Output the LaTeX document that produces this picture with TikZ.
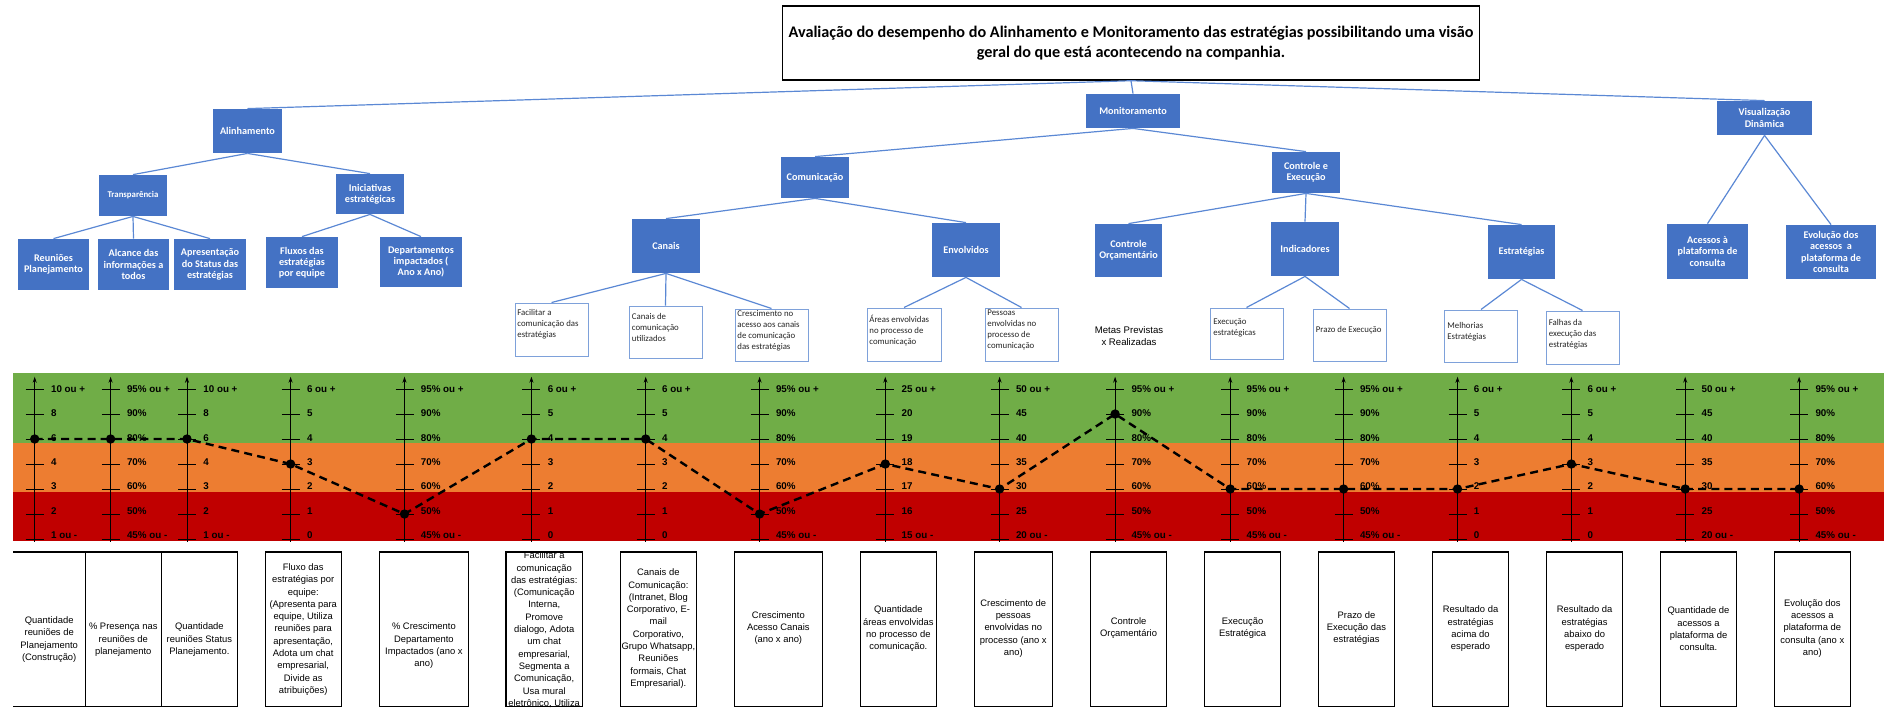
\documentclass[tikz,border=0pt]{standalone}
\usepackage{fontspec}
\setmainfont{Carlito}
\newfontfamily\arialish{Liberation Sans}
\usetikzlibrary{arrows.meta}

\definecolor{boxblue}{HTML}{4472C4}
\definecolor{linkblue}{HTML}{5B88D4}
\definecolor{paleblue}{HTML}{7EA1DA}
\definecolor{zgreen}{HTML}{70AD47}
\definecolor{zorange}{HTML}{ED7D31}
\definecolor{zred}{HTML}{C00000}

\tikzset{
  sz/.style 2 args={minimum width=#1*0.5pt, minimum height=#2*0.5pt},
  titlebox/.style={draw=black, line width=0.7pt, fill=white, inner sep=0pt, align=center,
    font=\bfseries\fontsize{8.1}{10}\selectfont},
  bluebox/.style={fill=boxblue, text=white, inner sep=0.5pt, align=center,
    font=\bfseries\fontsize{5.1}{5.6}\selectfont},
  subbox/.style={draw=paleblue, line width=0.5pt, fill=white, inner sep=0pt},
  subtxt/.style={anchor=west, align=left, inner sep=0pt, text=black!85,
    font=\fontsize{4.4}{5.5}\selectfont},
  metas/.style={align=center, inner sep=0pt, font=\arialish\fontsize{4.8}{5.9}\selectfont},
  conn/.style={draw=linkblue, line width=0.6pt},
  axisline/.style={line width=0.45pt, -{Stealth[length=3pt,width=2pt]}},
  tickmark/.style={line width=0.45pt},
  lvl/.style={anchor=west, inner sep=0pt, font=\arialish\bfseries\fontsize{4.9}{5}\selectfont},
  trend/.style={line width=1.2pt, dash pattern=on 4pt off 2.6pt},
  dot/.style={fill=black},
  kpibox/.style={draw=black, line width=0.6pt},
  kpitxt/.style={inner sep=0pt, align=center, font=\arialish\fontsize{4.7}{6.15}\selectfont},
}

% scale labels of the gauges
\def\lblA{10 ou +,8,6,4,3,2,1 ou -}
\def\lblP{95\% ou +,90\%,80\%,70\%,60\%,50\%,45\% ou -}
\def\lblS{6 ou +,5,4,3,2,1,0}
\def\lblT{25 ou +,20,19,18,17,16,15 ou -}
\def\lblF{50 ou +,45,40,35,30,25,20 ou -}

\begin{document}
\begin{tikzpicture}[x=0.5pt,y=-0.5pt]
\useasboundingbox (0,0) rectangle (1884,709);

% ---------- hierarchy ----------
\node[titlebox, sz={697}{74}] (title) at (1131,43)
  {Avaliação do desempenho do Alinhamento e Monitoramento das estratégias possibilitando uma visão\\geral do que está acontecendo na companhia.};

\node[bluebox, sz={69}{44}] (alin) at (247.5,131) {Alinhamento};
\node[bluebox, sz={68}{41}, font=\bfseries\fontsize{4.4}{5}\selectfont] (transp) at (133,195.5) {Transparência};
\node[bluebox, sz={68}{40}] (inic) at (370,194) {Iniciativas\\estratégicas};
\node[bluebox, sz={71}{51}] (reun) at (53.5,264.5) {Reuniões\\Planejamento};
\node[bluebox, sz={71}{51}] (alc) at (133.5,264.5) {Alcance das\\informações a\\todos};
\node[bluebox, sz={72}{51}] (apres) at (210,264.5) {Apresentação\\do Status das\\estratégias};
\node[bluebox, sz={72}{51}] (fluxos) at (302,262.5) {Fluxos das\\estratégias\\por equipe};
\node[bluebox, sz={82}{50}] (depto) at (421,262) {Departamentos\\impactados (\\Ano x Ano)};

\node[bluebox, sz={94}{34}] (monit) at (1133,111) {Monitoramento};
\node[bluebox, sz={68}{41}] (comun) at (815,177.5) {Comunicação};
\node[bluebox, sz={68}{54}] (canais) at (666,246) {Canais};
\node[bluebox, sz={68}{54}] (envol) at (966,250) {Envolvidos};
\node[bluebox, sz={67}{53}] (ctrlorc) at (1128.5,250.5) {Controle\\Orçamentário};
\node[bluebox, sz={68}{41}] (ctrlexec) at (1306,172.5) {Controle e\\Execução};
\node[bluebox, sz={68}{54}] (indic) at (1305,249) {Indicadores};
\node[bluebox, sz={67}{54}] (estrat) at (1521.5,252) {Estratégias};

\node[bluebox, sz={95}{34}] (visu) at (1764.5,118) {Visualização\\Dinâmica};
\node[bluebox, sz={81}{55}] (acessos) at (1707.5,251.5) {Acessos à\\plataforma de\\consulta};
\node[bluebox, sz={90}{54}] (evol) at (1831,252) {Evolução dos\\acessos~ a\\plataforma de\\consulta};

% detail boxes under the blue items
\node[subbox, sz={73}{53}] (w1) at (551.5,329.5) {};
\node[subbox, sz={73}{52}] (w2) at (665.5,332) {};
\node[subbox, sz={73}{52}] (w3) at (771.5,335) {};
\node[subbox, sz={74}{53}] (w4) at (904,334.5) {};
\node[subbox, sz={73}{53}] (w5) at (1021.5,334.5) {};
\node[subbox, sz={73}{51}] (w6) at (1246.5,333.5) {};
\node[subbox, sz={73}{52}] (w7) at (1349.5,335) {};
\node[subbox, sz={73}{52}] (w8) at (1481,336) {};
\node[subbox, sz={73}{53}] (w9) at (1582.5,337.5) {};

\node[subtxt] (w1t) at (517,324.5) {Facilitar a\\comunicação das\\estratégias};
\node[subtxt] (w2t) at (631.5,327.8) {Canais de\\comunicação\\utilizados};
\node[subtxt] (w3t) at (737,330.5) {Crescimento no\\acesso aos canais\\de comunicação\\das estratégias};
\node[subtxt] (w4t) at (869,331) {Áreas envolvidas\\no processo de\\comunicação};
\node[subtxt] (w5t) at (987,330) {Pessoas\\envolvidas no\\processo de\\comunicação};
\node[subtxt] (w6t) at (1213,327.8) {Execução\\estratégicas};
\node[subtxt] (w7t) at (1315.5,330.3) {Prazo de Execução};
\node[subtxt] (w8t) at (1447,331.5) {Melhorias\\Estratégias};
\node[subtxt] (w9t) at (1548.5,333.7) {Falhas da\\execução das\\estratégias};

\node[metas] (metas) at (1129,336) {Metas Previstas\\x Realizadas};

% connectors
\draw[conn] (title.south) -- (alin.north);
\draw[conn] (title.south) -- (monit.north);
\draw[conn] (title.south) -- (visu.north);
\draw[conn] (alin.south) -- (transp.north);
\draw[conn] (alin.south) -- (inic.north);
\draw[conn] (transp.south) -- (reun.north);
\draw[conn] (transp.south) -- (alc.north);
\draw[conn] (transp.south) -- (apres.north);
\draw[conn] (inic.south) -- (fluxos.north);
\draw[conn] (inic.south) -- (depto.north);
\draw[conn] (monit.south) -- (comun.north);
\draw[conn] (monit.south) -- (ctrlexec.north);
\draw[conn] (comun.south) -- (canais.north);
\draw[conn] (comun.south) -- (envol.north);
\draw[conn] (ctrlexec.south) -- (ctrlorc.north);
\draw[conn] (ctrlexec.south) -- (indic.north);
\draw[conn] (ctrlexec.south) -- (estrat.north);
\draw[conn] (visu.south) -- (acessos.north);
\draw[conn] (visu.south) -- (evol.north);
\draw[conn] (canais.south) -- (w1.north);
\draw[conn] (canais.south) -- (w2.north);
\draw[conn] (canais.south) -- (w3.north);
\draw[conn] (envol.south) -- (w4.north);
\draw[conn] (envol.south) -- (w5.north);
\draw[conn] (indic.south) -- (w6.north);
\draw[conn] (indic.south) -- (w7.north);
\draw[conn] (estrat.south) -- (w8.north);
\draw[conn] (estrat.south) -- (w9.north);

% ---------- performance bands ----------
\fill[zgreen]  (13,372.7) rectangle (1884,443.2);
\fill[zorange] (13,443.2) rectangle (1884,491.8);
\fill[zred]    (13,491.8) rectangle (1884,540.5);

% gauges: x position / measured level / label set
\foreach \xa/\lv/\set [count=\k] in {34.7/2/A, 110.6/2/P, 187/2/A, 290.6/3/S, 404.5/5/P,
    531.4/2/S, 645.7/2/S, 759.6/5/P, 885.3/3/T, 999.6/4/F, 1115.1/1/P, 1230.2/4/P,
    1343.6/4/P, 1457.5/4/S, 1571.3/3/S, 1685.2/4/F, 1799.1/4/P}{
  \draw[axisline] (\xa,541.7) -- (\xa,376.7);
  \expandafter\let\expandafter\curlbl\csname lbl\set\endcsname
  \foreach \t [count=\j from 0] in \curlbl {
    \draw[tickmark] (\xa-9,{389+25*\j}) -- (\xa+9,{389+25*\j});
    \node[lvl] (lbl-\k-\j) at (\xa+16,{389.3+24.3*\j}) {\t};
  }
  \coordinate (p\k) at (\xa,{389+25*\lv});
}
\draw[trend] (p1) foreach \k in {2,...,17}{ -- (p\k)};
\foreach \k in {1,...,17}{ \fill[dot] (p\k) circle[radius=2.35pt]; }

% ---------- indicator descriptions ----------
\draw[kpibox] (13,552) -- (85.3,552) -- (85.3,706.7) -- (13,706.7);
\node[kpitxt] (kpi1) at (49.2,639.5) {Quantidade\\reuniões de\\Planejamento\\(Construção)};
\foreach \xa/\xb/\ty/\txt [count=\k from 2] in {
  85.3/161.2/639.7/{\% Presença nas\\reuniões de\\planejamento},
  161.2/237.6/639.7/{Quantidade\\reuniões Status\\Planejamento.},
  265.3/341.2/629.5/{Fluxo das\\estratégias por\\equipe:\\(Apresenta para\\equipe, Utiliza\\reuniões para\\apresentação,\\Adota um chat\\empresarial,\\Divide as\\atribuições)},
  379.6/468.2/645.8/{\% Crescimento\\Departamento\\Impactados (ano x\\ano)},
  506/582.4/629.7/{Facilitar a\\comunicação\\das estratégias:\\(Comunicação\\Interna,\\Promove\\dialogo, Adota\\um chat\\empresarial,\\Segmenta a\\Comunicação,\\Usa mural\\eletrônico, Utiliza},
  620.4/696.3/628.7/{Canais de\\Comunicação:\\(Intranet, Blog\\Corporativo, E-\\mail\\Corporativo,\\Grupo Whatsapp,\\Reuniões\\formais, Chat\\Empresarial).},
  734.3/822.4/628/{Crescimento\\Acesso Canais\\(ano x ano)},
  860.4/936.3/629/{Quantidade\\áreas envolvidas\\no processo de\\comunicação.},
  974.3/1052.2/628.3/{Crescimento de\\pessoas\\envolvidas no\\processo (ano x\\ano)},
  1090.6/1166.5/628/{Controle\\Orçamentário},
  1204.5/1280.7/628/{Execução\\Estratégica},
  1318.3/1394.6/628/{Prazo de\\Execução das\\estratégias},
  1432.6/1508.5/629/{Resultado da\\estratégias\\acima do\\esperado},
  1546.4/1622.8/629/{Resultado da\\estratégias\\abaixo do\\esperado},
  1660.3/1736.7/629/{Quantidade de\\acessos a\\plataforma de\\consulta.},
  1774.2/1850.5/628.3/{Evolução dos\\acessos a\\plataforma de\\consulta (ano x\\ano)}}{
  \draw[kpibox] (\xa,552) rectangle (\xb,706.7);
  \node[kpitxt] (kpi\k) at ({(\xa+\xb)/2},\ty) {\txt};
}
\end{tikzpicture}
\end{document}
